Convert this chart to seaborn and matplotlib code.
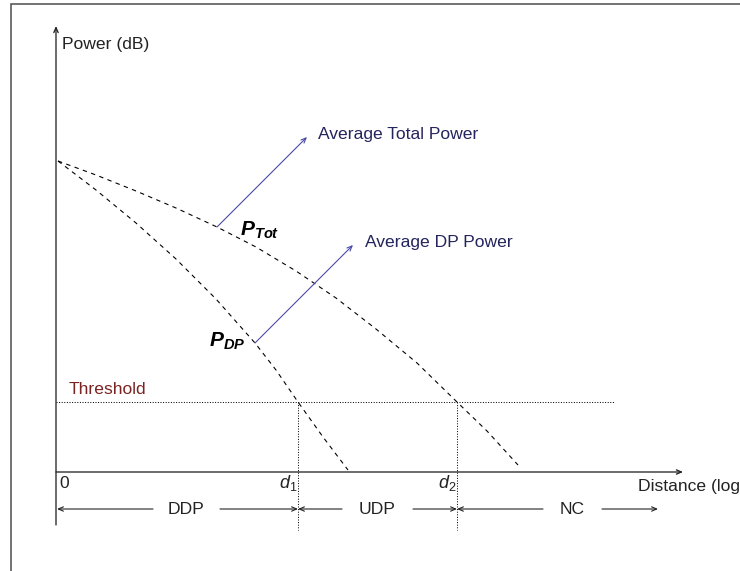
import matplotlib
matplotlib.use("Agg")
import matplotlib.pyplot as plt
import seaborn as sns
import pandas as pd

# Power-vs-distance curves (distance and power in diagram units, origin at the axes corner)
tot_distance = [2, 40, 80, 120, 161, 200, 240, 280, 320, 361, 401, 431, 462]
tot_power = [311, 297, 281, 264, 245, 225, 201, 174, 143, 109, 70, 41, 7]
dp_distance = [2, 40, 80, 120, 160, 199, 220, 242, 267, 292]
dp_power = [311, 282, 249, 213, 173, 129, 102, 70, 35, 2]

threshold = 70
d1, d2 = 242, 401
region_labels = ["DDP", "UDP", "NC"]

sns.set_theme(style="white")
plt.rcParams["font.family"] = ["Liberation Sans", "DejaVu Sans"]
plt.rcParams["mathtext.fontset"] = "custom"
plt.rcParams["mathtext.it"] = "Liberation Sans:italic"
plt.rcParams["mathtext.bf"] = "Liberation Sans:bold:italic"
plt.rcParams["mathtext.rm"] = "Liberation Sans"

fig = plt.figure(figsize=(7.4, 5.71), dpi=100)
ax = fig.add_axes([0, 0, 1, 1])
ax.set_xlim(-56, 684)
ax.set_ylim(-99, 472)
ax.axis("off")

px = 0.72  # one pixel in points
ink = "#222222"
fs = 12.6

curves = pd.concat([
    pd.DataFrame({"distance": tot_distance, "power": tot_power, "curve": "Tot"}),
    pd.DataFrame({"distance": dp_distance, "power": dp_power, "curve": "DP"}),
])
sns.lineplot(data=curves, x="distance", y="power", units="curve", estimator=None,
             sort=False, color="black", linewidth=1.1 * px, ax=ax,
             linestyle=(0, (4, 4)))

# outer frame
ax.plot([-45, -45, 700], [-120, 468, 468], color="#555555", lw=1.6 * px,
        solid_joinstyle="miter", clip_on=False)

# axes with open arrow heads
head = "->,head_length=0.3,head_width=0.13"
ax.annotate("", xy=(0, 446), xytext=(0, -53),
            arrowprops=dict(arrowstyle=head, color=ink, lw=1.3 * px,
                            shrinkA=0, shrinkB=0))
ax.annotate("", xy=(627, 0), xytext=(0, 0),
            arrowprops=dict(arrowstyle=head, color=ink, lw=1.3 * px,
                            shrinkA=0, shrinkB=0))

# threshold and crossing distances
ax.plot([0, 559], [threshold, threshold], color="black", lw=1.0 * px,
        linestyle=(0, (1, 1.6)))
for d in (d1, d2):
    ax.plot([d, d], [threshold, -58], color="black", lw=1.0 * px,
            linestyle=(0, (1, 1.6)))

# region arrows
row = -37
arrow_kw = dict(arrowstyle=head, color=ink, lw=1.1 * px, shrinkA=0, shrinkB=0)
segments = [
    ((97, row), (1, row)), ((164, row), (d1, row)),
    ((286, row), (d1, row)), ((357, row), (d2, row)),
    ((487, row), (d2, row)), ((546, row), (602, row)),
]
for tip_from, tip_to in segments:
    ax.annotate("", xy=tip_to, xytext=tip_from, arrowprops=arrow_kw)
for label, xc in zip(region_labels, [130, 321, 516]):
    ax.text(xc, row, label, ha="center", va="center", fontsize=fs, color=ink)

# labels
ax.text(6, 428, "Power (dB)", fontsize=fs, va="center", ha="left", color=ink)
ax.text(582, -15, "Distance (log", fontsize=fs, va="center", ha="left",
        color=ink, clip_on=False)
ax.text(3, -12, "0", fontsize=fs, va="center", ha="left", color=ink)
ax.text(d1 - 1, -11, "$d_1$", fontsize=13, va="center", ha="right", color=ink)
ax.text(d2 - 1, -11, "$d_2$", fontsize=13, va="center", ha="right", color=ink)
ax.text(13, 83, "Threshold", fontsize=fs, va="center", ha="left", color="#7b2424")

ax.text(184, 242, r"$\mathbf{P}_{\mathbf{Tot}}$", fontsize=15, va="center",
        ha="left", color="black")
ax.text(153, 131, r"$\mathbf{P}_{\mathbf{DP}}$", fontsize=15, va="center",
        ha="left", color="black")

# pointers to the curve names
ptr_kw = dict(arrowstyle=head, color="#4a4aa8", lw=1.1 * px, shrinkA=0, shrinkB=0)
ax.annotate("", xy=(251, 335), xytext=(161, 245), arrowprops=ptr_kw)
ax.annotate("", xy=(297, 227), xytext=(199, 129), arrowprops=ptr_kw)
ax.text(262, 337, "Average Total Power", fontsize=fs, va="center", ha="left",
        color="#24245e")
ax.text(309, 230, "Average DP Power", fontsize=fs, va="center", ha="left",
        color="#24245e")

fig.savefig("out.png", dpi=100, facecolor="white")
